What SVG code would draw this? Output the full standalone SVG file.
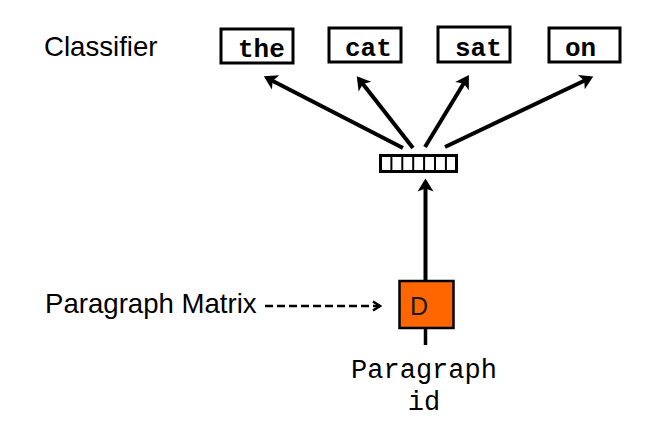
<svg xmlns="http://www.w3.org/2000/svg" width="652" height="421" viewBox="0 0 652 421">
<style>
.lbl{font-family:"Liberation Sans",Arial,sans-serif;font-size:27.6px;fill:#000}
.word{font-family:"Liberation Mono","Courier New",monospace;font-weight:bold;font-size:26px;fill:#000}
.mono{font-family:"Liberation Mono","Courier New",monospace;font-size:27px;fill:#000}
.box{fill:#fff;stroke:#000;stroke-width:3}
.conn{stroke:#000;stroke-width:4;fill:none}
</style>
<defs>
<marker id="ah" markerWidth="4.5" markerHeight="4.5" refX="2.4" refY="2.1" orient="auto" markerUnits="strokeWidth">
<path d="M0,0.1 L3.3,2.1 L0,4.1 L0.8,2.1 Z" fill="#000"/>
</marker>
<marker id="open" markerWidth="12" markerHeight="12" refX="10" refY="6" orient="auto" markerUnits="userSpaceOnUse">
<path d="M3,1.5 L10,6 L3,10.5" fill="none" stroke="#000" stroke-width="2.5"/>
</marker>
</defs>
<text class="lbl" x="44" y="56">Classifier</text>
<text class="lbl" x="45" y="313">Paragraph Matrix</text>
<g id="w-the"><rect class="box" x="221" y="29" width="72" height="34"/><text class="word" x="238" y="57">the</text></g>
<g id="w-cat"><rect class="box" x="329" y="28" width="72" height="34"/><text class="word" x="345" y="56">cat</text></g>
<g id="w-sat"><rect class="box" x="438" y="27" width="72" height="35"/><text class="word" x="455" y="56">sat</text></g>
<g id="w-on"><rect class="box" x="549" y="28" width="71" height="34"/><text class="word" x="565" y="56">on</text></g>
<g id="vector">
<rect x="380.5" y="155.5" width="76" height="16" fill="#fff" stroke="#000" stroke-width="3"/>
<path d="M391.4,155.5V171.5M402.3,155.5V171.5M413.2,155.5V171.5M424.1,155.5V171.5M435,155.5V171.5M445.9,155.5V171.5" stroke="#000" stroke-width="2"/>
</g>
<g id="connectors">
<line class="conn" x1="403" y1="148" x2="267" y2="78" marker-end="url(#ah)"/>
<line class="conn" x1="413" y1="148" x2="359" y2="79" marker-end="url(#ah)"/>
<line class="conn" x1="425" y1="147" x2="467" y2="78" marker-end="url(#ah)"/>
<line class="conn" x1="445" y1="147" x2="590" y2="78" marker-end="url(#ah)"/>
<line class="conn" x1="425.5" y1="281" x2="425.5" y2="182" marker-end="url(#ah)"/>
<line x1="425.5" y1="328" x2="425.5" y2="345" stroke="#000" stroke-width="3.5"/>
<line x1="265" y1="306" x2="380" y2="306" stroke="#000" stroke-width="2.5" stroke-dasharray="8,4" marker-end="url(#open)"/>
</g>
<g id="D">
<rect x="399.5" y="281" width="54" height="47" fill="#ff6600" stroke="#000" stroke-width="2.5"/>
<text x="410" y="315" font-family="'Liberation Sans',Arial,sans-serif" font-size="25" fill="#1a1a1a">D</text>
</g>
<text class="mono" x="424" y="378" text-anchor="middle">Paragraph</text>
<text class="mono" x="424" y="410" text-anchor="middle">id</text>
</svg>
